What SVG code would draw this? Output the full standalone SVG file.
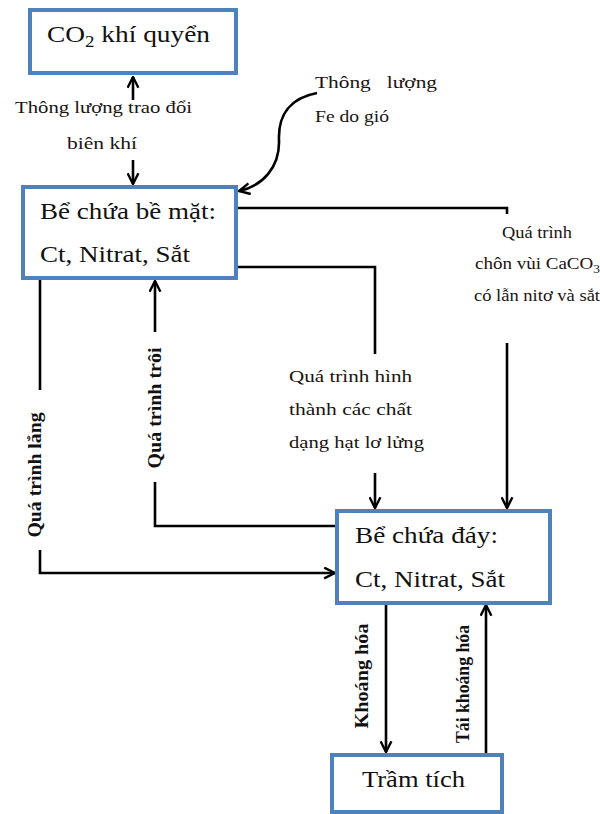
<svg xmlns="http://www.w3.org/2000/svg" width="600" height="814" viewBox="0 0 600 814">
<defs>
<marker id="ah" viewBox="0 0 12 12" refX="11" refY="6" markerWidth="13" markerHeight="13" markerUnits="userSpaceOnUse" orient="auto">
<path d="M1,1 L11,6 L1,11" fill="none" stroke="#000" stroke-width="2.2"/>
</marker>
<style>
.bt{font-size:23px;fill:#111}
.lt{font-size:17px;fill:#1a1410}
.vt{font-size:18px;font-weight:bold;fill:#111}
.box{fill:#fff;stroke:#4F81BD;stroke-width:4}
.ln{fill:none;stroke:#000;stroke-width:2.6}
.ar{fill:none;stroke:#000;stroke-width:2.6;marker-end:url(#ah)}
</style>
</defs>
<rect width="600" height="814" fill="#fff"/>
<g id="connectors">
<line class="ar" x1="133" y1="100" x2="133" y2="77"/>
<line class="ar" x1="133" y1="160" x2="133" y2="184"/>
<path class="ar" d="M317,93 C290,98 278,115 279,140 C280,168 262,186 239,191"/>
<path class="ln" d="M236,208 H507 V214"/>
<line class="ar" x1="507" y1="343" x2="507" y2="508"/>
<path class="ln" d="M236,267 H375 V354"/>
<line class="ar" x1="375" y1="473" x2="375" y2="508"/>
<path class="ln" d="M30,278 H40 V390"/>
<path class="ar" d="M40,550 V573 H335"/>
<line class="ar" x1="155" y1="332" x2="155" y2="281"/>
<path class="ln" d="M155,482 V526 H337"/>
<line class="ar" x1="386" y1="603" x2="386" y2="752"/>
<line class="ar" x1="486" y1="755" x2="486" y2="605"/>
</g>
<g font-family="Liberation Serif, Times New Roman, serif">
<g id="co2">
<rect class="box" x="30" y="10" width="206" height="63"/>
<text class="bt" x="47" y="42" textLength="163" lengthAdjust="spacingAndGlyphs">CO<tspan font-size="16" dy="5">2</tspan><tspan dy="-5"> khí quyển</tspan></text>
</g>
<g id="surface">
<rect class="box" x="23" y="187" width="213" height="91"/>
<text class="bt" x="40" y="219" textLength="176" lengthAdjust="spacingAndGlyphs">Bể chứa bề mặt:</text>
<text class="bt" x="40" y="262" textLength="150" lengthAdjust="spacingAndGlyphs">Ct, Nitrat, Sắt</text>
</g>
<g id="bottom">
<rect class="box" x="337" y="511" width="213" height="92"/>
<text class="bt" x="355" y="543" textLength="143" lengthAdjust="spacingAndGlyphs">Bể chứa đáy:</text>
<text class="bt" x="355" y="587" textLength="150" lengthAdjust="spacingAndGlyphs">Ct, Nitrat, Sắt</text>
</g>
<g id="sediment">
<rect class="box" x="332" y="755" width="170" height="57"/>
<text class="bt" x="362" y="787" textLength="103" lengthAdjust="spacingAndGlyphs">Trầm tích</text>
</g>
<g id="labels">
<text class="lt" x="15" y="113" textLength="177" lengthAdjust="spacingAndGlyphs">Thông lượng trao đổi</text>
<text class="lt" x="67" y="149" textLength="70" lengthAdjust="spacingAndGlyphs">biên khí</text>
<text class="lt" x="315" y="88" xml:space="preserve" textLength="122" lengthAdjust="spacingAndGlyphs">Thông   lượng</text>
<text class="lt" x="315" y="122" textLength="74" lengthAdjust="spacingAndGlyphs">Fe do gió</text>
<text class="lt" x="502" y="238" textLength="70" lengthAdjust="spacingAndGlyphs">Quá trình</text>
<text class="lt" x="475" y="269" textLength="125" lengthAdjust="spacingAndGlyphs">chôn vùi CaCO<tspan font-size="12" dy="4">3</tspan></text>
<text class="lt" x="474" y="301" textLength="126" lengthAdjust="spacingAndGlyphs">có lẫn nitơ và sắt</text>
<text class="lt" x="289" y="382" textLength="123" lengthAdjust="spacingAndGlyphs">Quá trình hình</text>
<text class="lt" x="289" y="415" textLength="123" lengthAdjust="spacingAndGlyphs">thành các chất</text>
<text class="lt" x="289" y="448" textLength="135" lengthAdjust="spacingAndGlyphs">dạng hạt lơ lửng</text>
<text class="vt" transform="translate(41,475) rotate(-90)" text-anchor="middle" textLength="125" lengthAdjust="spacingAndGlyphs">Quá trình lắng</text>
<text class="vt" transform="translate(161,408) rotate(-90)" text-anchor="middle" textLength="121" lengthAdjust="spacingAndGlyphs">Quá trình trôi</text>
<text class="vt" transform="translate(368,676) rotate(-90)" text-anchor="middle" textLength="105" lengthAdjust="spacingAndGlyphs">Khoáng hóa</text>
<text class="vt" transform="translate(469,684) rotate(-90)" text-anchor="middle" textLength="118" lengthAdjust="spacingAndGlyphs">Tái khoáng hóa</text>
</g>
</g>
</svg>
